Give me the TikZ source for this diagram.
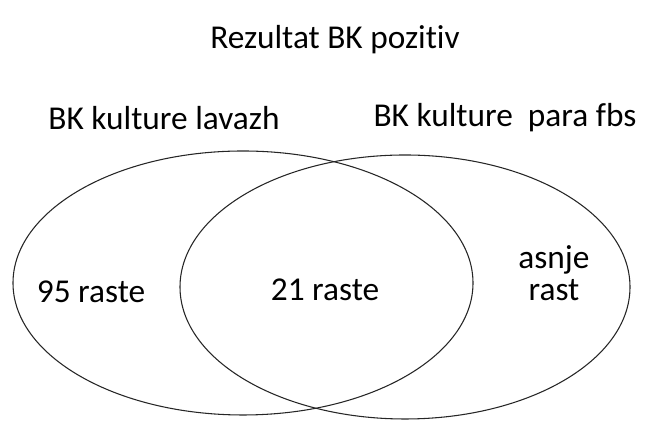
\documentclass[tikz,border=0pt]{standalone}
\usepackage{fontspec}
\setmainfont[Ligatures={NoCommon}]{Carlito}

\tikzset{
  label text/.style={font=\fontsize{25}{24}\selectfont, inner sep=0pt, align=center},
  set line/.style={line width=0.8pt, black!85}
}

\begin{document}
\begin{tikzpicture}[x=0.75pt, y=0.75pt]
      \useasboundingbox (0, 0) rectangle (646, 423);
      % the two sets
      \draw[set line] (243, 140) ellipse [x radius = 230, y radius = 132];
      \draw[set line] (405, 136) ellipse [x radius = 225, y radius = 132];
      % headings
      \node[label text] (title) at (335, 383) {Rezultat BK pozitiv};
      \node[label text] (lavazh) at (164, 305) {BK kulture lavazh};
      \node[label text] (fbs) at (505, 305) {BK kulture \ para fbs};
      % counts
      \node[label text] (only left) at (91, 131) {95 raste};
      \node[label text] (both) at (325, 133) {21 raste};
      \node[label text] (only right) at (554, 150) {asnje\\rast};
    \end{tikzpicture}
\end{document}
